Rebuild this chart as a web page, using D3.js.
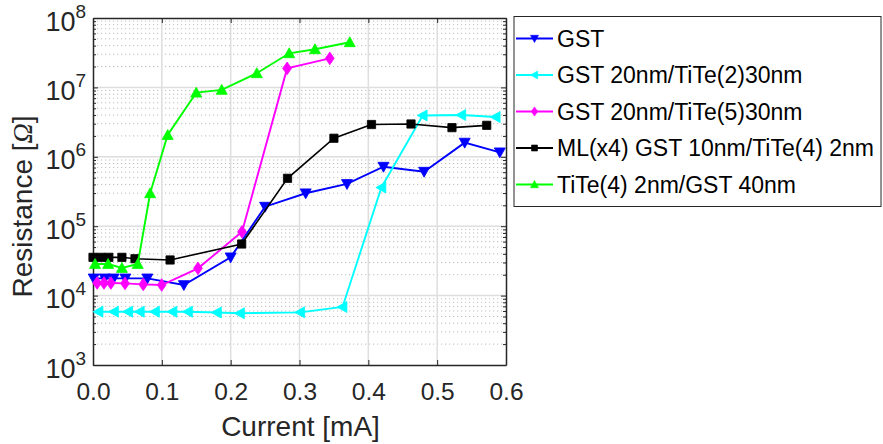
<!DOCTYPE html>
<html>
<head>
<meta charset="utf-8">
<script src="https://cdn.jsdelivr.net/npm/d3@7"></script>
<style>
  body { margin: 0; background: #fff; }
  svg { display: block; font-family: "Liberation Sans", Arial, Helvetica, sans-serif; }
</style>
</head>
<body>
<script>
// ---------- data ----------
const xTicks = [0.0, 0.1, 0.2, 0.3, 0.4, 0.5, 0.6];
const yDecades = [1e3, 1e4, 1e5, 1e6, 1e7, 1e8];

const seriesNames = [
  "GST",
  "GST 20nm/TiTe(2)30nm",
  "GST 20nm/TiTe(5)30nm",
  "ML(x4) GST 10nm/TiTe(4) 2nm",
  "TiTe(4) 2nm/GST 40nm"
];
const seriesColors = ["#0000ff", "#00ffff", "#ff00ff", "#000000", "#00ff00"];
const seriesMarkers = ["triDown", "triLeft", "diamond", "square", "triUp"];

const currentGST = [0.001, 0.017, 0.030, 0.047, 0.079, 0.132, 0.200, 0.250, 0.309, 0.369, 0.422, 0.481, 0.540, 0.591];
const resGST     = [1.77e4, 1.77e4, 1.77e4, 1.77e4, 1.77e4, 1.42e4, 3.56e4, 1.91e5, 2.98e5, 4.06e5, 7.2e5, 6.1e5, 1.6e6, 1.16e6];

const currentTiTe2 = [0.008, 0.0305, 0.051, 0.068, 0.090, 0.1155, 0.138, 0.180, 0.2135, 0.301, 0.3625, 0.419, 0.479, 0.535, 0.585];
const resTiTe2     = [5.86e3, 5.86e3, 5.86e3, 5.86e3, 5.86e3, 5.86e3, 5.86e3, 5.7e3, 5.56e3, 5.74e3, 6.85e3, 3.61e5, 3.94e6, 4.0e6, 3.74e6];

const currentTiTe5 = [0.006, 0.016, 0.026, 0.0465, 0.073, 0.0998, 0.1525, 0.2165, 0.282, 0.344];
const resTiTe5     = [1.52e4, 1.52e4, 1.52e4, 1.5e4, 1.45e4, 1.42e4, 2.47e4, 8.3e4, 1.88e7, 2.62e7];

const currentML = [0.0, 0.0116, 0.023, 0.042, 0.061, 0.112, 0.216, 0.2826, 0.350, 0.4046, 0.462, 0.5215, 0.572];
const resML     = [3.56e4, 3.56e4, 3.56e4, 3.56e4, 3.4e4, 3.26e4, 5.54e4, 4.9e5, 1.85e6, 2.92e6, 2.97e6, 2.63e6, 2.84e6];

const currentTiTeGST = [0.003, 0.022, 0.042, 0.065, 0.083, 0.1085, 0.150, 0.187, 0.238, 0.285, 0.3225, 0.373];
const resTiTeGST     = [2.85e4, 2.85e4, 2.5e4, 2.85e4, 2.98e5, 2.06e6, 8.4e6, 9.2e6, 1.6e7, 3.1e7, 3.54e7, 4.47e7];

const seriesX = [currentGST, currentTiTe2, currentTiTe5, currentML, currentTiTeGST];
const seriesY = [resGST, resTiTe2, resTiTe5, resML, resTiTeGST];

// ---------- layout ----------
const W = 883, H = 444;
const plot = { left: 93, right: 506, top: 18, bottom: 365 };
const textColor = "#262626";

const x = d3.scaleLinear().domain([0, 0.6]).range([plot.left, plot.right]);
const y = d3.scaleLog().domain([1e3, 1e8]).range([plot.bottom, plot.top]);

const minorY = [];
for (let e = 3; e < 8; e++) for (let m = 2; m <= 9; m++) minorY.push(m * Math.pow(10, e));

const svg = d3.select("body").append("svg").attr("width", W).attr("height", H);

// ---------- grid ----------
const grid = svg.append("g");
grid.selectAll(".minor").data(minorY).join("line")
  .attr("x1", plot.left).attr("x2", plot.right)
  .attr("y1", d => y(d)).attr("y2", d => y(d))
  .attr("stroke", "#bdbdbd").attr("stroke-width", 1).attr("stroke-dasharray", "1.2,2.8");
grid.selectAll(".majorY").data(yDecades.slice(1, -1)).join("line")
  .attr("x1", plot.left).attr("x2", plot.right)
  .attr("y1", d => y(d)).attr("y2", d => y(d))
  .attr("stroke", "#dedede").attr("stroke-width", 1.5);
grid.selectAll(".majorX").data(xTicks.slice(1, -1)).join("line")
  .attr("x1", d => x(d)).attr("x2", d => x(d))
  .attr("y1", plot.top).attr("y2", plot.bottom)
  .attr("stroke", "#dedede").attr("stroke-width", 1.5);

// ---------- axes ----------
function styleAxis(g) {
  g.selectAll("path").attr("stroke", textColor).attr("stroke-width", 1.5);
  g.selectAll("line").attr("stroke", textColor).attr("stroke-width", 1);
}
const bottomAxis = svg.append("g").attr("transform", `translate(0,${plot.bottom})`)
  .call(d3.axisBottom(x).tickValues(xTicks).tickSizeInner(-5).tickSizeOuter(0)
    .tickPadding(18).tickFormat(d3.format(".1f")));
styleAxis(bottomAxis);
bottomAxis.selectAll("text").attr("font-size", 24.5).attr("fill", textColor)
  .attr("font-family", "'Liberation Sans', Arial, sans-serif");

const topAxis = svg.append("g").attr("transform", `translate(0,${plot.top})`)
  .call(d3.axisTop(x).tickValues(xTicks).tickSizeInner(-5).tickSizeOuter(0).tickFormat(""));
styleAxis(topAxis);

const leftAxis = svg.append("g").attr("transform", `translate(${plot.left},0)`)
  .call(d3.axisLeft(y).tickValues(yDecades).tickSizeInner(-5).tickSizeOuter(0).tickFormat(""));
styleAxis(leftAxis);
const leftMinor = svg.append("g").attr("transform", `translate(${plot.left},0)`)
  .call(d3.axisLeft(y).tickValues(minorY).tickSizeInner(-3).tickSizeOuter(0).tickFormat(""));
styleAxis(leftMinor);
leftMinor.select("path").remove();

const rightAxis = svg.append("g").attr("transform", `translate(${plot.right},0)`)
  .call(d3.axisRight(y).tickValues(yDecades).tickSizeInner(-5).tickSizeOuter(0).tickFormat(""));
styleAxis(rightAxis);
const rightMinor = svg.append("g").attr("transform", `translate(${plot.right},0)`)
  .call(d3.axisRight(y).tickValues(minorY).tickSizeInner(-3).tickSizeOuter(0).tickFormat(""));
styleAxis(rightMinor);
rightMinor.select("path").remove();

// y tick labels 10^N
leftAxis.selectAll(".tick").each(function(d) {
  const t = d3.select(this).append("text")
    .attr("x", -7).attr("y", 12)
    .attr("text-anchor", "end").attr("fill", textColor)
    .attr("font-size", 27);
  t.append("tspan").text("10");
  t.append("tspan").attr("dy", -13).attr("font-size", 19).text(String(Math.round(Math.log10(d))));
});

// axis titles
svg.append("text").attr("x", (plot.left + plot.right) / 2 + 1).attr("y", 436)
  .attr("text-anchor", "middle").attr("font-size", 28).attr("fill", textColor)
  .text("Current [mA]");
const yt = svg.append("text").attr("transform", `translate(32,${(plot.top + plot.bottom) / 2 + 15}) rotate(-90)`)
  .attr("text-anchor", "middle").attr("font-size", 28).attr("fill", textColor);
yt.append("tspan").text("Resistance [");
yt.append("tspan").attr("font-family", "'Liberation Serif', serif").attr("font-style", "italic").text("Ω");
yt.append("tspan").text("]");

// ---------- markers ----------
function markerPath(type, s) {
  const h = s / 2;
  switch (type) {
    case "triUp":   return `M0,${-h}L${h},${h * 0.8}L${-h},${h * 0.8}Z`;
    case "triDown": return `M0,${h}L${h},${-h * 0.8}L${-h},${-h * 0.8}Z`;
    case "triLeft": return `M${-h},0L${h * 0.8},${-h}L${h * 0.8},${h}Z`;
    case "diamond": return `M0,${-h * 1.15}L${h * 0.8},0L0,${h * 1.15}L${-h * 0.8},0Z`;
    case "square":  return `M${-h * 0.75},${-h * 0.75}H${h * 0.75}V${h * 0.75}H${-h * 0.75}Z`;
  }
}

const line = d3.line().x(d => x(d[0])).y(d => y(d[1]));

seriesNames.forEach((name, i) => {
  const pts = seriesX[i].map((v, j) => [v, seriesY[i][j]]);
  const g = svg.append("g");
  g.append("path").datum(pts).attr("d", line)
    .attr("fill", "none").attr("stroke", seriesColors[i]).attr("stroke-width", i === 3 ? 1.6 : 1.9);
  g.selectAll("path.m").data(pts).join("path").attr("class", "m")
    .attr("transform", d => `translate(${x(d[0])},${y(d[1])})`)
    .attr("d", markerPath(seriesMarkers[i], 11))
    .attr("fill", seriesColors[i]).attr("stroke", seriesColors[i]).attr("stroke-width", 0.8);
});

// ---------- legend ----------
const lg = svg.append("g");
lg.append("rect").attr("x", 514).attr("y", 16.5).attr("width", 367).attr("height", 190)
  .attr("fill", "#fff").attr("stroke", textColor).attr("stroke-width", 1);
const legendY = [38.5, 75, 111.5, 148, 184.5];
seriesNames.forEach((name, i) => {
  const yy = legendY[i];
  lg.append("line").attr("x1", 516).attr("x2", 553).attr("y1", yy).attr("y2", yy)
    .attr("stroke", seriesColors[i]).attr("stroke-width", 1.9);
  lg.append("path").attr("transform", `translate(534.5,${yy})`)
    .attr("d", markerPath(seriesMarkers[i], 8))
    .attr("fill", seriesColors[i]).attr("stroke", seriesColors[i]).attr("stroke-width", 0.6);
  lg.append("text").attr("x", 557).attr("y", yy + 8.2)
    .attr("font-size", 23).attr("fill", "#000").text(name);
});
</script>
</body>
</html>
